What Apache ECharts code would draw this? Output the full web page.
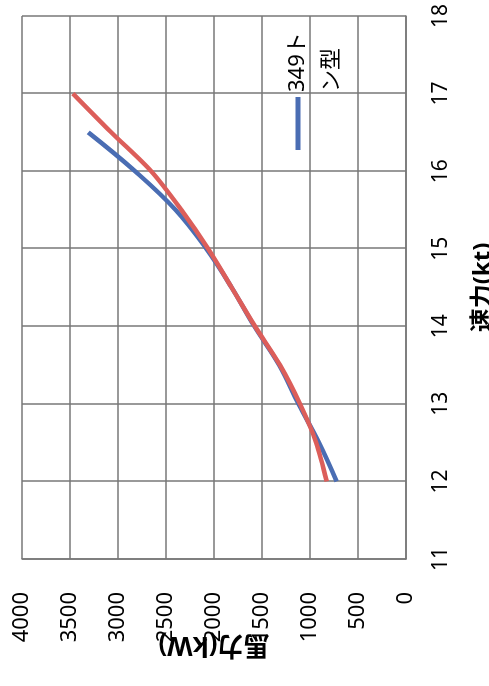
<!DOCTYPE html>
<html>
<head>
<meta charset="utf-8">
<script src="https://cdn.jsdelivr.net/npm/echarts@6/dist/echarts.min.js"></script>
<style>
  html, body { margin: 0; padding: 0; background: #fff; overflow: hidden; }
  /* the scanned chart is lying on its side: draw it upright, then turn it */
  #main {
    position: absolute; left: 0; top: 0;
    width: 686px; height: 489px;
    transform-origin: 0 0;
    transform: translate(0, 686px) rotate(-90deg);
  }
</style>
</head>
<body>
<div id="main"></div>
<script>
// speed (kt) and power (kW)
var speeds = [12, 12.5, 13, 13.5, 14, 14.5, 15, 15.5, 16, 16.5, 17];
var power349 = [722, 906, 1120, 1320, 1580, 1816, 2080, 2400, 2823, 3310];
var powerOther = [826, 935, 1105, 1313, 1573, 1816, 2062, 2340, 2655, 3070, 3469];

var name349 = '349トン型';
var nameOther = '比較船';

function pairs(xs, ys) {
  var out = [];
  for (var i = 0; i < ys.length; i++) out.push([xs[i], ys[i]]);
  return out;
}

var chart = echarts.init(document.getElementById('main'), null, { renderer: 'canvas' });

var gridLine = { color: '#777', width: 1.5 };
var font = "'Noto Sans', 'Noto Sans CJK JP', sans-serif";

var option = {
  backgroundColor: '#fff',
  animation: false,
  textStyle: { fontFamily: font, color: '#000' },
  grid: { left: 127, right: 16, top: 22, bottom: 83, outerBoundsMode: 'none' },
  legend: {
    data: [{ name: name349, icon: 'rect' }],
    selectedMode: false,
    left: 531,
    top: 242,
    itemWidth: 53,
    itemHeight: 5,
    // blank first line keeps the swatch level with "349ト"
    formatter: '\n{name}',
    textStyle: {
      fontSize: 22, color: '#000', fontFamily: font,
      width: 64, overflow: 'break', lineHeight: 34
    }
  },
  xAxis: {
    type: 'value',
    min: 11, max: 18, interval: 1,
    name: '速力(kt)',
    nameLocation: 'middle',
    nameGap: 65,
    nameMoveOverlap: false,
    nameTextStyle: { fontSize: 24, fontWeight: 'bold', color: '#000' },
    axisLine: { lineStyle: gridLine },
    axisTick: { show: false },
    axisLabel: { fontSize: 21, color: '#000', margin: 25 },
    splitLine: { show: true, lineStyle: gridLine }
  },
  yAxis: {
    type: 'value',
    min: 0, max: 4000, interval: 500,
    name: '馬力(kW)',
    nameLocation: 'middle',
    nameGap: 72,
    nameMoveOverlap: false,
    nameTextStyle: { fontSize: 26, fontWeight: 'bold', color: '#000' },
    axisLine: { show: true, lineStyle: gridLine },
    axisTick: { show: false },
    axisLabel: {
      fontSize: 22, color: '#000', margin: 33,
      formatter: function (v) { return String(v); }
    },
    splitLine: { show: true, lineStyle: gridLine }
  },
  series: [
    {
      name: name349,
      type: 'line',
      symbol: 'none',
      smooth: 0.4,
      lineStyle: { color: '#4a6db3', width: 4.5 },
      itemStyle: { color: '#4a6db3' },
      data: pairs(speeds, power349),
      z: 3
    },
    {
      name: nameOther,
      type: 'line',
      symbol: 'none',
      smooth: 0.3,
      lineStyle: { color: '#dc5e5a', width: 4.5 },
      itemStyle: { color: '#dc5e5a' },
      data: pairs(speeds, powerOther),
      z: 4
    }
  ]
};

chart.setOption(option);
</script>
</body>
</html>
